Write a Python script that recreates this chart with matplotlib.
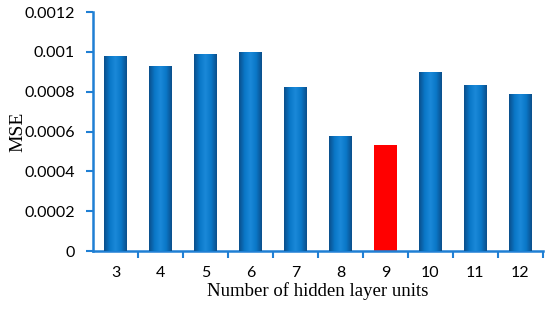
import numpy as np
import matplotlib.pyplot as plt
from matplotlib.colors import LinearSegmentedColormap

units = ['3', '4', '5', '6', '7', '8', '9', '10', '11', '12']
mse = [0.00098, 0.00093, 0.00099, 0.001, 0.000825, 0.00058, 0.000535, 0.0009, 0.000835, 0.00079]
best = '9'

axis_col = '#1f7fd4'
blue_map = LinearSegmentedColormap.from_list('b', ['#0b4f8c', '#0a78c8', '#1a88d8', '#0a78c8', '#0b4f8c'])

fig = plt.figure(figsize=(5.5, 3.1), dpi=100)
ax = fig.add_axes([0.169, 0.19, 0.818, 0.771])

x = np.arange(len(units))
bars = ax.bar(x, mse, width=0.5, color='#0a78c8', zorder=2)
grad = np.linspace(0, 1, 64).reshape(1, -1)
for b, u in zip(bars, units):
    if u == best:
        b.set_facecolor('#ff0000')
        continue
    im = ax.imshow(grad, cmap=blue_map, aspect='auto', zorder=3,
                   extent=[b.get_x(), b.get_x() + b.get_width(), 0, b.get_height()])
    im.set_clip_path(b)

ax.set_xlim(-0.5, len(units) - 0.5)
ax.set_ylim(0, 0.0012)
ax.set_yticks(np.arange(0, 0.00121, 0.0002))
ax.set_yticklabels(['0', '0.0002', '0.0004', '0.0006', '0.0008', '0.001', '0.0012'])
ax.set_xticks(x)
ax.set_xticklabels(units)
ax.set_xticks(np.arange(0.5, len(units), 1), minor=True)
ax.tick_params(axis='x', which='major', length=0, pad=11)
ax.tick_params(axis='x', which='minor', length=5, width=1.5, color=axis_col, direction='out')
ax.tick_params(axis='y', length=5, width=1.5, color=axis_col, direction='out', pad=8)
for lab in ax.get_xticklabels() + ax.get_yticklabels():
    lab.set_fontfamily('Lato')
    lab.set_fontsize(11.5)

for s in ['top', 'right']:
    ax.spines[s].set_visible(False)
for s in ['left', 'bottom']:
    ax.spines[s].set_color(axis_col)
    ax.spines[s].set_linewidth(1.8)

ax.set_xlabel('Number of hidden layer units', fontfamily='Liberation Serif', fontsize=13.5, labelpad=1)
ax.set_ylabel('MSE', fontfamily='Liberation Serif', fontsize=14)
ax.yaxis.set_label_coords(-0.148, 0.5)

fig.savefig('out.png', dpi=100)
